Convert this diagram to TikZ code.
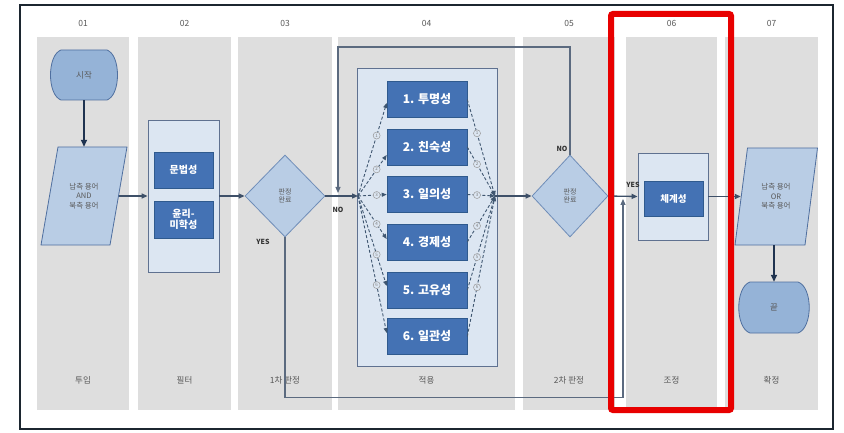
\documentclass[tikz,border=0pt]{standalone}
\usepackage{fontspec}
\setmainfont{Noto Sans CJK KR}
\usetikzlibrary{arrows.meta,shapes.geometric}

\definecolor{laneGray}{HTML}{DEDEDE}
\definecolor{labelGray}{HTML}{595959}
\definecolor{panelFill}{HTML}{DCE6F2}
\definecolor{panelLine}{HTML}{5F7190}
\definecolor{itemFill}{HTML}{4472B4}
\definecolor{itemLine}{HTML}{2F5A8E}
\definecolor{shapeFill}{HTML}{B9CDE5}
\definecolor{shapeLine}{HTML}{6F8DB8}
\definecolor{termFill}{HTML}{95B3D7}
\definecolor{termLine}{HTML}{4F6F9F}
\definecolor{flowDark}{HTML}{1F3350}
\definecolor{flowLine}{HTML}{3E5068}
\definecolor{dashLine}{HTML}{3F5670}
\definecolor{markRed}{HTML}{E80000}
\definecolor{frameLine}{HTML}{1C2630}

\tikzset{
  lane/.style={fill=laneGray},
  lanelabel/.style={text=labelGray, font=\fontsize{8.5pt}{10pt}\selectfont, inner sep=1pt},
  panel/.style={draw=panelLine, fill=panelFill, line width=0.8pt, inner sep=0pt},
  item/.style={draw=itemLine, fill=itemFill, line width=0.6pt, text=white,
    font=\bfseries\fontsize{12pt}{14pt}\selectfont, minimum width=80pt,
    minimum height=36pt, inner sep=0pt, align=center},
  decision/.style={diamond, draw=shapeLine, fill=shapeFill, line width=0.8pt,
    inner sep=0pt, text=labelGray, font=\fontsize{7pt}{8.5pt}\selectfont, align=center},
  termshape/.style={draw=termLine, fill=termFill, line width=0.8pt},
  termtext/.style={inner sep=0pt, text=labelGray, font=\fontsize{8.5pt}{9pt}\selectfont},
  ioshape/.style={draw=termLine, fill=shapeFill, line width=0.8pt},
  iotext/.style={inner sep=0pt, text=labelGray, font=\fontsize{7.5pt}{9.5pt}\selectfont, align=center},
  flow/.style={draw=flowLine, line width=1.3pt, -{Triangle[length=6pt,width=5pt]}},
  flowmain/.style={draw=flowDark, line width=1.8pt, -{Triangle[length=7pt,width=6pt]}},
  route/.style={draw=flowLine!85!white, line width=1.1pt, -{Triangle[length=6pt,width=5pt]}},
  fan/.style={draw=dashLine, line width=0.9pt, dash pattern=on 3pt off 2pt,
    -{Triangle[length=5pt,width=4pt]}},
  seqmark/.style={circle, solid, draw=gray!80, fill=panelFill, text=gray, inner sep=0pt,
    minimum size=7pt, line width=0.5pt, font=\fontsize{4.5pt}{5pt}\selectfont},
  answer/.style={font=\bfseries\fontsize{7pt}{8pt}\selectfont, text=black!80, inner sep=0pt},
}

\begin{document}
\begin{tikzpicture}[x=1pt, y=-1pt]
\useasboundingbox (0,0) rectangle (844,433);
\fill[white] (0,0) rectangle (844,433);
\draw[frameLine, line width=1.6pt] (20,5) rectangle (833,429);

% swim lanes with step numbers and stage names
\foreach \a/\b/\n/\t in {37/129/01/투입, 138/231/02/필터, 238/332/03/1차 판정,
    338/515/04/적용, 523/615/05/2차 판정, 626/717/06/조정, 725/818/07/확정} {
  \fill[lane] (\a,37) rectangle (\b,410);
  \node[lanelabel] (h\n) at ({(\a+\b)/2},23) {\n};
  \node[lanelabel] (f\n) at ({(\a+\b)/2},380) {\t};
}

% 01 input
\draw[termshape] (61,50) -- (107,50) .. controls (121,55) and (121,95) .. (107,100)
  -- (61,100) .. controls (47,95) and (47,55) .. (61,50) -- cycle;
\node[termtext, minimum width=66pt, minimum height=50pt] (start) at (84,75) {시작};
\draw[ioshape] (84,196) ++(-43,49) -- ++(69,0) -- ++(17,-98) -- ++(-69,0) -- cycle;
\node[iotext, minimum width=69pt, minimum height=98pt] (in) at (84,196) {남측 용어\\AND\\북측 용어};

% 02 filter
\node[panel, minimum width=71pt, minimum height=152pt] (filter) at (183.5,196) {};
\node[item, minimum width=59pt, font=\bfseries\fontsize{10pt}{12pt}\selectfont] (grammar) at (183.5,170) {문법성};
\node[item, minimum width=59pt, minimum height=37pt, font=\bfseries\fontsize{10pt}{11.5pt}\selectfont] (ethics) at (183.5,219.5) {윤리-\\미학성};

% 03 first check
\node[decision, minimum width=80pt, minimum height=82pt] (d1) at (285,196) {판정\\완료};

% 04 application
\node[panel, minimum width=140pt, minimum height=298pt] (apply) at (427,217) {};
\node[item] (k1) at (427,99.5) {1. 투명성};
\node[item] (k2) at (427,147) {2. 친숙성};
\node[item] (k3) at (427,194.5) {3. 일의성};
\node[item] (k4) at (427,242) {4. 경제성};
\node[item] (k5) at (427,290) {5. 고유성};
\node[item] (k6) at (427,336.5) {6. 일관성};
\coordinate (jl) at (358,196);
\coordinate (jr) at (495,196);

% 05 second check
\node[decision, minimum width=76pt, minimum height=82pt] (d2) at (570,196) {판정\\완료};

% 06 adjustment
\node[panel, minimum width=70pt, minimum height=87pt] (adjust) at (673,196.5) {};
\node[item, minimum width=59pt, minimum height=35pt, font=\bfseries\fontsize{9.5pt}{11pt}\selectfont] (system) at (673.5,198.5) {체계성};

% 07 confirmation
\draw[ioshape] (776,196.5) ++(-41,48.5) -- ++(70,0) -- ++(12.5,-97) -- ++(-70,0) -- cycle;
\node[iotext, minimum width=70pt, minimum height=97pt] (out) at (776,196.5) {남측 용어\\OR\\북측 용어};
\draw[termshape] (750,282) -- (798,282) .. controls (813,287) and (813,328) .. (798,333)
  -- (750,333) .. controls (735,328) and (735,287) .. (750,282) -- cycle;
\node[termtext, minimum width=68pt, minimum height=51pt] (end) at (774,307.5) {끝};

% main flow
\draw[flowmain] (start) -- (in.north);
\draw[flow] (in.east) -- (filter.west);
\draw[flow] (filter.east) -- (d1.west);
\draw[flow] (d1.east) -- (jl);
\draw[flow] (jr) -- (d2.west);
\draw[flow] (d2.east) -- (adjust.west);
\draw[flow] (adjust.east) -- (out.west);
\draw[flowmain, line width=1.5pt] (end.north |- out.south) -- (end.north);

% fan-out to the six criteria and back
\foreach \i/\dy in {1/-3.5, 2/-8, 3/0, 4/3, 5/4, 6/3.5} {
  \draw[fan] (jl) -- node[seqmark, pos=0.65] {\i} ([yshift=\dy pt]k\i.west);
  \draw[fan] (k\i.east) -- node[seqmark, pos=0.35] {\i} (jr);
}

% NO loop back from the second check
\coordinate (looptop) at (338,47);
\coordinate (loopin) at (338,193);
\draw[route] (d2.north) |- (looptop) -- (loopin);

% YES bypass from the first check
\coordinate (yesin) at (623,199);
\draw[route] (d1.south) -- ++(0,160) -| (yesin);

% branch labels
\node[answer] (no1) at (338,210) {NO};
\node[answer] (yes1) at (263,242) {YES};
\node[answer] (no2) at (562,149) {NO};
\node[answer] (yes2) at (633,185) {YES};

% highlight around step 06
\draw[markRed, line width=6pt, rounded corners=2pt] (611,14) rectangle (731,410);
\end{tikzpicture}
\end{document}
